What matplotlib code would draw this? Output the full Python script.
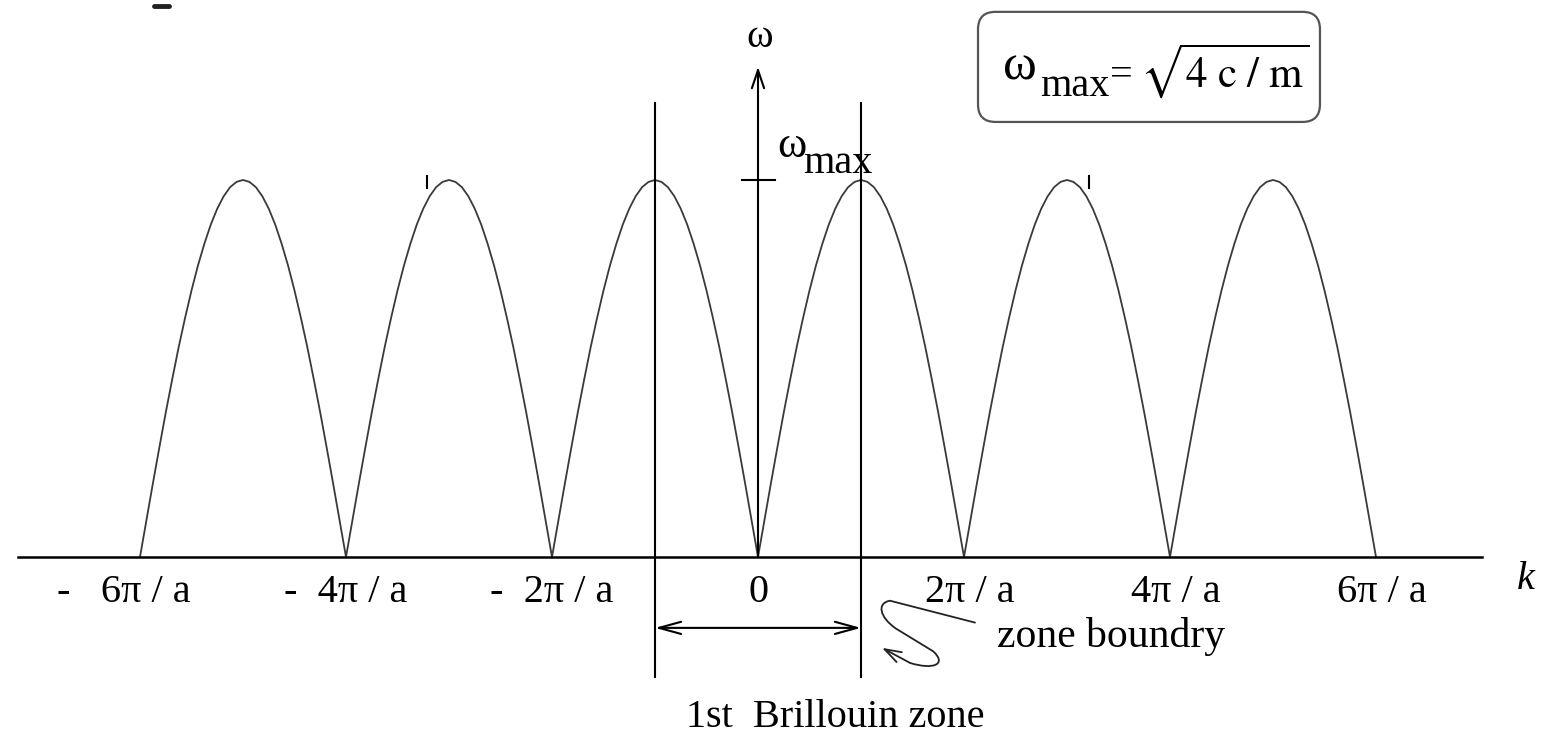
import numpy as np
import matplotlib.pyplot as plt
from matplotlib.patches import FancyBboxPatch, FancyArrowPatch
from matplotlib.path import Path

plt.rcParams['font.family'] = ['Liberation Serif', 'DejaVu Serif']
plt.rcParams['mathtext.fontset'] = 'stix'

# k is measured in units of pi/a, omega in units of omega_max
tick_k = [-6, -4, -2, 0, 2, 4, 6]
tick_labels = ['-   6π / a', '-  4π / a', '-  2π / a', '0', '2π / a', '4π / a', '6π / a']
arch_starts = [-6, -4, -2, 0, 2, 4]
# omega/omega_max over one arch (width 2pi/a), every pi/(16a)
arch_omega = [0.000, 0.098, 0.195, 0.290, 0.383, 0.471, 0.556, 0.634, 0.707,
              0.773, 0.831, 0.882, 0.924, 0.957, 0.981, 0.995, 1.000,
              0.995, 0.981, 0.957, 0.924, 0.882, 0.831, 0.773, 0.707,
              0.634, 0.556, 0.471, 0.383, 0.290, 0.195, 0.098, 0.000]
zone_edges = [-1, 1]

FS = 29
# horizontal nudge of each tick label (in pi/a)
label_nudge = [-0.16, 0.0, 0.0, 0.0, 0.06, 0.06, 0.06]

fig = plt.figure(figsize=(15.63, 7.36), dpi=100)
ax = fig.add_axes([0, 0, 1, 1])
ax.set_xlim(-758 / 103, (1563 - 758) / 103)
ax.set_ylim(-(736 - 557) / 377, 557 / 377)
ax.axis('off')

# dispersion curve, one arch per reciprocal lattice period
n = len(arch_omega)
k_all, w_all = [], []
for s in arch_starts:
    k_all.extend(s + 2.0 * np.arange(n) / (n - 1))
    w_all.extend(arch_omega)
ax.plot(k_all, w_all, color='#3a3a3a', lw=1.3, zorder=2)

# k axis
ax.plot([-7.18, 7.03], [0, 0], color='k', lw=1.8, zorder=3)
ax.text(7.45, -0.06, 'k', fontsize=FS, style='italic', ha='center', va='center')
for k, lab, dk in zip(tick_k, tick_labels, label_nudge):
    ax.text(k + dk, -0.093, lab, fontsize=FS, ha='center', va='center')

# omega axis with arrow
ax.annotate('', xy=(0, 1.30), xytext=(0, 0),
            arrowprops=dict(arrowstyle='->,head_length=0.65,head_width=0.22',
                            lw=1.5, color='k', mutation_scale=20,
                            shrinkA=0, shrinkB=0))
ax.text(0.02, 1.377, 'ω', fontsize=FS, ha='center', va='center')

# omega_max tick and label
ax.plot([-0.155, 0.165], [1, 1], color='k', lw=1.5)
ax.text(0.33, 1.09, 'ω', fontsize=FS + 3, ha='center', va='center')
ax.text(0.437, 1.019, 'max', fontsize=FS, ha='left', va='baseline')

# small marks next to two of the peaks, and one at the top edge
for k in [-3.214, 3.214]:
    ax.plot([k, k], [0.98, 1.01], color='k', lw=1.5)
ax.plot([-5.86, -5.72], [1.462, 1.462], color='#222', lw=3.5, solid_capstyle='round')

# first Brillouin zone boundaries
for k in zone_edges:
    ax.plot([k, k], [1.204, -0.318], color='k', lw=1.5, zorder=3)
ax.annotate('', xy=(zone_edges[1], -0.188), xytext=(zone_edges[0], -0.188),
            arrowprops=dict(arrowstyle='<->,head_length=0.8,head_width=0.22',
                            lw=1.5, color='k', mutation_scale=20,
                            shrinkA=0, shrinkB=0))
ax.text(0.748, -0.427, '1st  Brillouin zone', fontsize=FS, ha='center', va='center')

# squiggly pointer to the zone boundary
verts = [(2.107, -0.174), (1.282, -0.116),
         (1.150, -0.122), (1.180, -0.160), (1.340, -0.190),
         (1.700, -0.250),
         (1.840, -0.285), (1.700, -0.300), (1.476, -0.281),
         (1.204, -0.241)]
codes = [Path.MOVETO, Path.LINETO,
         Path.CURVE4, Path.CURVE4, Path.CURVE4,
         Path.LINETO,
         Path.CURVE4, Path.CURVE4, Path.CURVE4,
         Path.LINETO]
ax.add_patch(FancyArrowPatch(path=Path(verts, codes),
                             arrowstyle='->,head_length=0.6,head_width=0.2',
                             mutation_scale=20, lw=1.3, color='#222'))
ax.text(2.32, -0.21, 'zone boundry', fontsize=FS + 1, ha='left', va='center')

# omega_max definition box
ax.add_patch(FancyBboxPatch((2.136, 1.154), 3.320, 0.292,
                            boxstyle='round,pad=0,rounding_size=0.17',
                            mutation_aspect=103 / 377,
                            fc='none', ec='#555555', lw=1.6))
ax.text(2.544, 1.30, 'ω', fontsize=FS + 8, ha='center', va='center')
ax.text(2.738, 1.223, 'max', fontsize=FS, ha='left', va='baseline')
ax.text(3.524, 1.276, '=', fontsize=FS, ha='center', va='center')
ax.text(3.709, 1.29, r'$\sqrt{4\ \mathrm{c}\ /\ \mathrm{m}}$', fontsize=FS + 2,
        ha='left', va='center')

fig.savefig('out.png', dpi=100)
